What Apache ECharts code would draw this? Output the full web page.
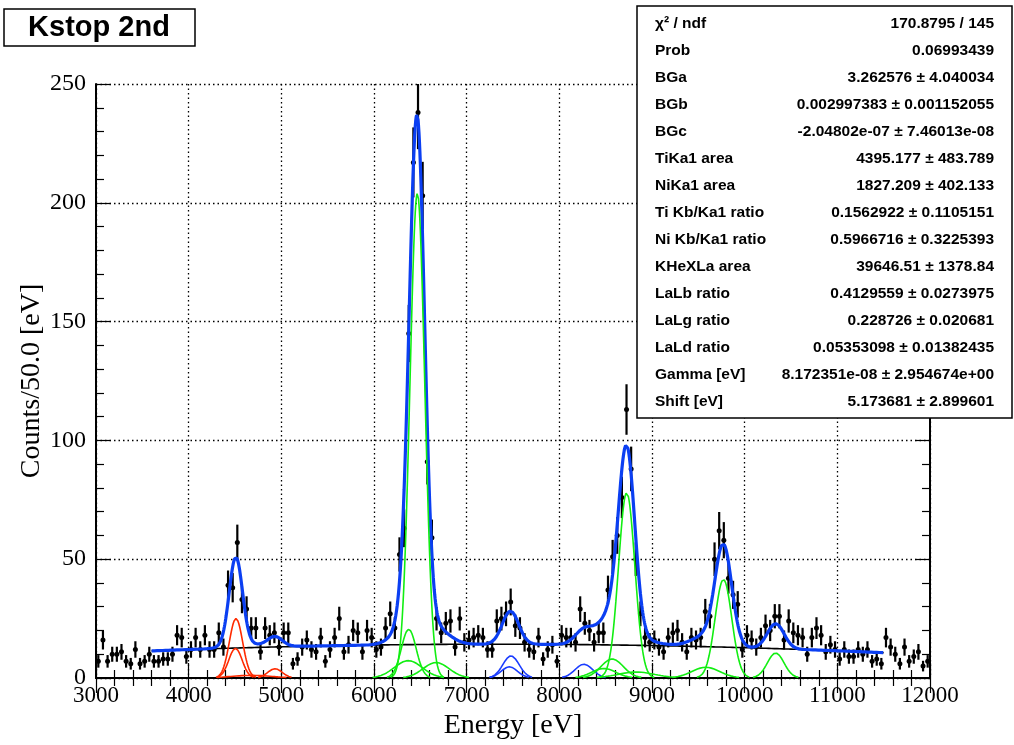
<!DOCTYPE html>
<html>
<head>
<meta charset="utf-8">
<script src="https://cdn.jsdelivr.net/npm/echarts@6/dist/echarts.min.js"></script>
<style>
  html, body { margin: 0; padding: 0; background: #ffffff; }
  #chart { width: 1014px; height: 745px; }
</style>
</head>
<body>
<div id="chart"></div>
<script>
// Histogram: 50 eV bins from 3000 to 12000 eV
const binLow = 3000;
const binWidth = 50;
const counts = [
  7, 16, 7, 10, 10, 11, 7, 6, 12, 6, 7, 10, 7, 7, 8, 8, 10, 18, 17, 9,
  12, 17, 12, 18, 12, 12, 19, 13, 39, 38, 57, 33, 29, 21, 21, 11, 21, 18, 19, 13,
  19, 19, 6, 8, 13, 16, 12, 11, 17, 7, 12, 17, 25, 11, 14, 20, 19, 11, 20, 17,
  12, 13, 21, 27, 21, 52, 63, 145, 217, 238, 203, 91, 59, 25, 19, 23, 24, 13, 25, 15,
  16, 17, 18, 17, 12, 12, 24, 25, 27, 32, 22, 21, 15, 12, 11, 17, 8, 12, 14, 7,
  18, 17, 17, 15, 29, 23, 20, 15, 19, 19, 37, 51, 60, 76, 113, 88, 50, 27, 17, 15,
  16, 13, 11, 17, 19, 20, 15, 11, 17, 16, 17, 28, 26, 50, 62, 58, 42, 35, 31, 12,
  18, 16, 13, 17, 22, 20, 26, 26, 16, 24, 19, 18, 17, 10, 17, 21, 18, 11, 14, 12,
  8, 12, 9, 9, 12, 10, 12, 7, 8, 6, 17, 13, 10, 6, 13, 7, 9, 11, 5, 7
];

// Fit range and quadratic background (BGa, BGb, BGc)
const fitRange = [3600, 11500];
const bgCoef = [3.262576, 0.002997383, -2.04802e-07];

// Ti K lines (Ka1, Ka2, Kb) and low tail
const tiCentres = [4510.8, 4504.9, 4931.8, 4680];
const tiHeights = [25, 12.5, 3.9, 1.1];
const tiSigmas = [72, 72, 78, 220];

// Ni K lines (Ka1, Ka2, Kb)
const niCentres = [7478.2, 7460.9, 8264.7];
const niHeights = [9.3, 4.7, 5.8];
const niSigmas = [88, 88, 95];

// Kaonic helium L lines (La, Lb, Lg, Ld) and neighbouring lines
const kheCentres = [6468, 8727, 9771, 10335, 6375, 6370, 6670, 8570, 8480, 8830, 9580];
const kheHeights = [204, 78, 41.5, 10.5, 20.5, 7.3, 6.5, 8, 4, 2.5, 4.5];
const kheSigmas = [80, 88, 90, 90, 80, 150, 140, 120, 130, 200, 150];

// Axis ticks
const xTicks = [3000, 4000, 5000, 6000, 7000, 8000, 9000, 10000, 11000, 12000];
const yTicks = [0, 50, 100, 150, 200, 250];

// Fit statistics box
const statNames = [
  'χ² / ndf', 'Prob', 'BGa', 'BGb', 'BGc', 'TiKa1 area', 'NiKa1 area',
  'Ti Kb/Ka1 ratio', 'Ni Kb/Ka1 ratio', 'KHeXLa area', 'LaLb ratio',
  'LaLg ratio', 'LaLd ratio', 'Gamma [eV]', 'Shift [eV]'
];
const statValues = [
  '170.8795 / 145', '0.06993439', '3.262576 ± 4.040034',
  '0.002997383 ± 0.001152055', '-2.04802e-07 ± 7.46013e-08',
  '4395.177 ± 483.789', '1827.209 ± 402.133', '0.1562922 ± 0.1105151',
  '0.5966716 ± 0.3225393', '39646.51 ± 1378.84', '0.4129559 ± 0.0273975',
  '0.228726 ± 0.020681', '0.05353098 ± 0.01382435',
  '8.172351e-08 ± 2.954674e+00', '5.173681 ± 2.899601'
];

// ---- model evaluation ----
function gauss(x, c, h, s) {
  const t = (x - c) / s;
  return h * Math.exp(-0.5 * t * t);
}
function background(x) {
  return bgCoef[0] + bgCoef[1] * x + bgCoef[2] * x * x;
}
const groups = [
  { c: tiCentres, h: tiHeights, s: tiSigmas, color: '#ff2a00' },
  { c: niCentres, h: niHeights, s: niSigmas, color: '#1a3cff' },
  { c: kheCentres, h: kheHeights, s: kheSigmas, color: '#12ee12' }
];
const step = 5;
const sampleX = [];
for (let x = fitRange[0]; x <= fitRange[1] + 1e-9; x += step) sampleX.push(x);

function totalModel(x) {
  let y = background(x);
  groups.forEach(g => g.c.forEach((c, i) => { y += gauss(x, c, g.h[i], g.s[i]); }));
  return y;
}

const bgLine = sampleX.map(x => [x, background(x)]);
const totalLine = sampleX.map(x => [x, totalModel(x)]);

const componentSeries = [];
groups.forEach(g => {
  g.c.forEach((c, i) => {
    const pts = [];
    sampleX.forEach(x => {
      const v = gauss(x, c, g.h[i], g.s[i]);
      if (v >= 0.25) pts.push([x, v]);
    });
    componentSeries.push({
      type: 'line', data: pts, showSymbol: false, symbol: 'none', smooth: false,
      lineStyle: { color: g.color, width: 1.6 }, z: 6, silent: true, animation: false, clip: true
    });
  });
});

const points = counts.map((n, i) => [binLow + binWidth * (i + 0.5), n, Math.sqrt(n)]);

const serif = '"Liberation Serif", "DejaVu Serif", serif';
const sans = '"Liberation Sans", Arial, Helvetica, sans-serif';

function axisCommon(showGrid) {
  return {
    axisLine: { show: true, lineStyle: { color: '#000', width: 2 } },
    axisTick: { show: true, inside: true, length: 15, lineStyle: { color: '#000', width: 1.2 } },
    minorTick: { show: true, splitNumber: 5, length: 8, lineStyle: { color: '#000', width: 1.2 } },
    splitLine: { show: showGrid, lineStyle: { color: '#000', width: 1.3, type: [1.5, 3] } },
    axisLabel: { show: false }
  };
}

const xBottom = Object.assign(axisCommon(true), {
  type: 'value', position: 'bottom', min: xTicks[0], max: xTicks[xTicks.length - 1], interval: 1000,
  name: 'Energy [eV]', nameLocation: 'middle', nameGap: 31,
  nameTextStyle: { fontFamily: serif, fontSize: 28, color: '#000' }
});
xBottom.axisLabel = { show: true, margin: 6, fontFamily: serif, fontSize: 23, color: '#000',
  formatter: v => String(v) };

const xTop = Object.assign(axisCommon(false), {
  type: 'value', position: 'top', min: xTicks[0], max: xTicks[xTicks.length - 1], interval: 1000
});

const yLeft = Object.assign(axisCommon(true), {
  type: 'value', position: 'left', min: yTicks[0], max: yTicks[yTicks.length - 1], interval: 50,
  name: 'Counts/50.0 [eV]', nameLocation: 'middle', nameGap: 50, nameRotate: 90,
  nameMoveOverlap: false,
  nameTextStyle: { fontFamily: serif, fontSize: 28, color: '#000' }
});
yLeft.axisLabel = { show: true, margin: 10, fontFamily: serif, fontSize: 24, color: '#000',
  formatter: v => String(v) };

const yRight = Object.assign(axisCommon(false), {
  type: 'value', position: 'right', min: yTicks[0], max: yTicks[yTicks.length - 1], interval: 50
});

// Title and statistics box
const graphics = [
  { type: 'rect', z: 100, shape: { x: 4, y: 9, width: 191, height: 37 },
    style: { fill: '#fff', stroke: '#000', lineWidth: 1.5 } },
  { type: 'text', z: 101, x: 99, y: 28,
    style: { text: 'Kstop 2nd', fontFamily: sans, fontWeight: 'bold', fontSize: 29,
             fill: '#000', align: 'center', verticalAlign: 'middle' } },
  { type: 'rect', z: 100, shape: { x: 637, y: 6, width: 375, height: 412 },
    style: { fill: '#fff', stroke: '#000', lineWidth: 1.5 } }
];
statNames.forEach((name, i) => {
  const y = 23.5 + 27 * i;
  graphics.push({ type: 'text', z: 101, x: 655, y: y,
    style: { text: name, fontFamily: sans, fontWeight: 'bold', fontSize: 15.5, fill: '#000',
             align: 'left', verticalAlign: 'middle' } });
  graphics.push({ type: 'text', z: 101, x: 994, y: y,
    style: { text: statValues[i], fontFamily: sans, fontWeight: 'bold', fontSize: 15.5, fill: '#000',
             align: 'right', verticalAlign: 'middle' } });
});

const chart = echarts.init(document.getElementById('chart'), null, { renderer: 'canvas' });
chart.setOption({
  backgroundColor: '#ffffff',
  animation: false,
  grid: { left: 96, top: 84, width: 834, height: 594, containLabel: false },
  xAxis: [xBottom, xTop],
  yAxis: [yLeft, yRight],
  graphic: graphics,
  series: [
    {
      type: 'custom', name: 'data', data: points, clip: true, z: 3, silent: true,
      renderItem: function (params, api) {
        const x = api.value(0), y = api.value(1), e = api.value(2);
        const p = api.coord([x, y]);
        const lo = api.coord([x, Math.max(y - e, 0)]);
        const hi = api.coord([x, y + e]);
        return {
          type: 'group',
          children: [
            { type: 'line', shape: { x1: p[0], y1: lo[1], x2: p[0], y2: hi[1] },
              style: { stroke: '#000', lineWidth: 2.2 } },
            { type: 'circle', shape: { cx: p[0], cy: p[1], r: 2.5 }, style: { fill: '#000' } }
          ]
        };
      }
    },
    {
      type: 'line', name: 'background', data: bgLine, showSymbol: false, symbol: 'none',
      lineStyle: { color: '#000', width: 1.6 }, z: 4, silent: true
    },
    {
      type: 'line', name: 'fit', data: totalLine, showSymbol: false, symbol: 'none',
      lineStyle: { color: '#0b3ff2', width: 3.2 }, z: 5, silent: true
    }
  ].concat(componentSeries)
});
</script>
</body>
</html>
